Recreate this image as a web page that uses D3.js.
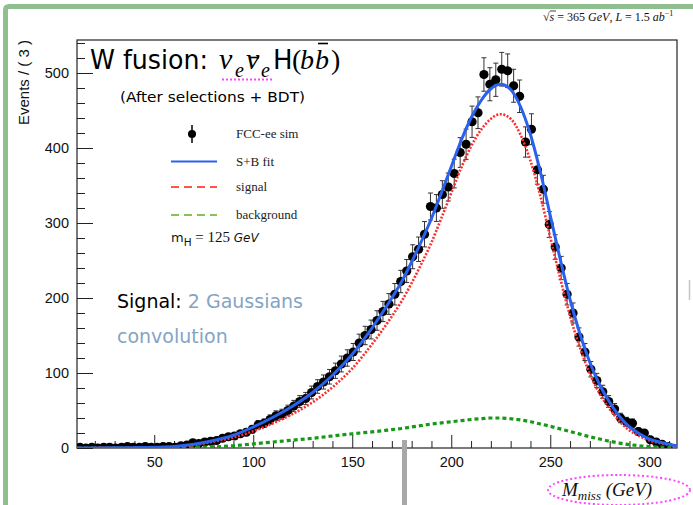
<!DOCTYPE html>
<html><head><meta charset="utf-8">
<script src="https://cdn.jsdelivr.net/npm/d3@7"></script>
<style>html,body{margin:0;padding:0;background:#fff;overflow:hidden}</style>
</head><body>
<svg id="c" width="693" height="505" xmlns="http://www.w3.org/2000/svg"></svg>
<script>
// ---- data ----
const binCenters = d3.range(12.5, 311, 3); // bin width 3 GeV, 100 bins
const counts = [
  1,0,1,0,1,1,0,1,2,1,
  1,2,1,1,2,2,1,3,4,7,
  6,8,9,10,13,15,16,19,21,25,
  31,33,38,43,45,50,56,62,66,74,
  82,88,95,103,112,120,128,140,150,158,
  170,182,192,205,222,236,255,265,285,322,
  320,338,348,366,394,405,435,447,498,485,
  491,505,503,483,469,408,425,371,345,298,
  268,240,205,180,148,128,105,90,75,62,
  52,40,35,33,22,20,11,8,5,2
];
const fitX =      [11,20,30,40,50,60,70,80,90,100,110,120,130,140,150,160,170,175,180,185,190,195,200,205,210,215,220,225,230,235,240,245,250,255,260,265,270,275,280,285,290,295,300,305,310,314];
const fitSB =     [0,0.1,0.2,0.5,1,2,5,10,17,28,41,56,74,97,125,160,200,222,248,276,306,340,375,410,440,463,479,485,478,455,418,368,310,252,198,152,114,84,61,42,28,19,12,8,5,3];
const fitSignal = [0,0.1,0.2,0.4,0.7,1.4,4,8.5,14,22.5,33,45.5,61,81,106,138.5,175.5,196,220,246,274,306.5,340,373.5,402,424,439,445,439,417.5,383,336,281,226.5,176,133.5,99,72,52,35.5,23.5,16,10,6.8,4.4,2.7];
const fitBkg =    [0,0,0,0.1,0.3,0.6,1,1.5,3,5.5,8,10.5,13,16,19,21.5,24.5,26,28,30,32,33.5,35,36.5,38,39,40,40,39,37.5,35,32,29,25.5,22,18.5,15,12,9,6.5,4.5,3,2,1.2,0.6,0.3];
const xMajor = [50,100,150,200,250,300];
const yMajor = [0,100,200,300,400,500];
const legendLabels = ["FCC-ee sim","S+B fit","signal","background"];

// ---- drawing ----
const svg = d3.select("#c");
const W = 693, H = 505;
const L = 77, R = 677, T = 40, B = 448;
const x = d3.scaleLinear().domain([11, 314]).range([L, R]);
const y = d3.scaleLinear().domain([0, 544]).range([B, T]);

svg.append("rect").attr("width", W).attr("height", H).attr("fill", "#fff");

// slide decoration (green frame)
svg.append("path").attr("d", "M3,505 L3,10 Q3,4 9,4 L693,4 L693,9 L9,9 Q8,9 8,10 L8,505 Z")
   .attr("fill", "#8fbf8f");

const clip = svg.append("defs").append("clipPath").attr("id", "pc");
clip.append("rect").attr("x", L).attr("y", T).attr("width", R - L).attr("height", B - T);

// axes
const gx = svg.append("g").attr("transform", `translate(0,${B})`);
gx.call(d3.axisBottom(x).tickValues(d3.range(20, 311, 10).filter(v => v % 50 !== 0)).tickSize(-7).tickFormat(""));
const gx2 = svg.append("g").attr("transform", `translate(0,${B})`);
gx2.call(d3.axisBottom(x).tickValues(xMajor).tickSize(-13).tickFormat(d3.format("d")).tickPadding(9));
const gy = svg.append("g").attr("transform", `translate(${L},0)`);
gy.call(d3.axisLeft(y).tickValues(d3.range(20, 541, 20).filter(v => v % 100 !== 0)).tickSize(-8).tickFormat(""));
const gy2 = svg.append("g").attr("transform", `translate(${L},0)`);
gy2.call(d3.axisLeft(y).tickValues(yMajor).tickSize(-16).tickFormat(d3.format("d")).tickPadding(8));
[gx, gx2, gy, gy2].forEach(g => {
  g.select(".domain").remove();
  g.selectAll("line").attr("stroke", "#222").attr("stroke-width", 1);
  g.selectAll("text").attr("font-family", "Liberation Sans, Arial, sans-serif").attr("font-size", 14.5).attr("fill", "#111");
});
gy2.selectAll("text").attr("x", -8);

svg.append("rect").attr("x", L).attr("y", T).attr("width", R - L).attr("height", B - T)
   .attr("fill", "none").attr("stroke", "#222").attr("stroke-width", 1.2);

const plot = svg.append("g").attr("clip-path", "url(#pc)");

// data points with error bars
const pts = binCenters.map((c, i) => ({c, n: counts[i]}));
const eb = plot.append("g");
pts.forEach(p => {
  const e = Math.sqrt(p.n);
  const px = x(p.c);
  if (e > 0) {
    eb.append("line").attr("x1", px).attr("x2", px).attr("y1", y(p.n - e)).attr("y2", y(p.n + e)).attr("stroke", "#333").attr("stroke-width", 1);
    eb.append("line").attr("x1", px - 2.5).attr("x2", px + 2.5).attr("y1", y(p.n + e)).attr("y2", y(p.n + e)).attr("stroke", "#333").attr("stroke-width", 1);
    eb.append("line").attr("x1", px - 2.5).attr("x2", px + 2.5).attr("y1", y(p.n - e)).attr("y2", y(p.n - e)).attr("stroke", "#333").attr("stroke-width", 1);
  }
});
plot.append("g").selectAll("circle").data(pts).join("circle")
  .attr("cx", d => x(d.c)).attr("cy", d => y(d.n)).attr("r", 4.6).attr("fill", "#000");

// fit curves
const line = vals => d3.line().x((d, i) => x(fitX[i])).y(d => y(d)).curve(d3.curveMonotoneX)(vals);
plot.append("path").attr("d", line(fitBkg)).attr("fill", "none").attr("stroke", "#169a16").attr("stroke-width", 3.2).attr("stroke-dasharray", "4,3");
plot.append("path").attr("d", line(fitSignal)).attr("fill", "none").attr("stroke", "#ff2d2d").attr("stroke-width", 2.6).attr("stroke-dasharray", "2,1.6");
plot.append("path").attr("d", line(fitSB)).attr("fill", "none").attr("stroke", "#2a62ee").attr("stroke-width", 3);

// legend
const lg = svg.append("g");
lg.append("line").attr("x1", 192).attr("x2", 192).attr("y1", 125).attr("y2", 143).attr("stroke", "#000").attr("stroke-width", 1.5);
lg.append("circle").attr("cx", 192).attr("cy", 134).attr("r", 4).attr("fill", "#000");
lg.append("line").attr("x1", 171).attr("x2", 217).attr("y1", 161.5).attr("y2", 161.5).attr("stroke", "#2a62ee").attr("stroke-width", 2);
lg.append("line").attr("x1", 171).attr("x2", 217).attr("y1", 187).attr("y2", 187).attr("stroke", "#ff5544").attr("stroke-width", 2).attr("stroke-dasharray", "8,5");
lg.append("line").attr("x1", 171).attr("x2", 217).attr("y1", 215).attr("y2", 215).attr("stroke", "#86c255").attr("stroke-width", 2).attr("stroke-dasharray", "8,5");
const legY = [137.5, 165.5, 191, 219];
legendLabels.forEach((t, i) => {
  lg.append("text").attr("x", 236).attr("y", legY[i]).text(t)
    .attr("font-family", "Liberation Serif, Times New Roman, serif").attr("font-size", 13).attr("fill", "#222");
});
const mh = lg.append("text").attr("x", 171).attr("y", 241.5).attr("fill", "#111");
mh.append("tspan").text("m").attr("font-family", "DejaVu Sans, sans-serif").attr("font-size", 13);
mh.append("tspan").text("H").attr("font-family", "DejaVu Sans, sans-serif").attr("font-size", 10.5).attr("dy", 4);
mh.append("tspan").text(" = 125 ").attr("font-family", "Liberation Serif, serif").attr("font-size", 15).attr("dy", -4);
mh.append("tspan").text("GeV").attr("font-family", "DejaVu Sans, sans-serif").attr("font-style", "italic").attr("font-size", 12);

// title
const serif = "Liberation Serif, Times New Roman, serif";
const comic = "DejaVu Sans, Verdana, sans-serif";
svg.append("text").attr("x", 90).attr("y", 69).text("W fusion:")
   .attr("font-family", comic).attr("font-size", 26).attr("textLength", 118).attr("lengthAdjust", "spacingAndGlyphs").attr("fill", "#000");
const tpart = (tx, xx, yy, fs, fam, it) => svg.append("text").attr("x", xx).attr("y", yy).text(tx)
   .attr("font-family", fam).attr("font-size", fs).attr("font-style", it ? "italic" : "normal").attr("fill", "#000");
tpart("\u03BD", 219, 69, 30, serif, true);
tpart("e", 235, 77, 20, serif, true);
tpart("\u03BD", 246, 69, 30, serif, true);
tpart("e", 261, 77, 20, serif, true);
svg.append("line").attr("x1", 249).attr("x2", 259).attr("y1", 57.5).attr("y2", 57.5).attr("stroke", "#000").attr("stroke-width", 1.6);
tpart("H", 273, 69, 26, comic, false);
tpart("(", 292, 69, 28, serif, false);
tpart("b", 300, 69, 28, serif, true);
tpart("b", 315, 69, 28, serif, true);
svg.append("line").attr("x1", 318).attr("x2", 328).attr("y1", 43.5).attr("y2", 43.5).attr("stroke", "#000").attr("stroke-width", 1.6);
tpart(")", 331, 69, 28, serif, false);
svg.append("line").attr("x1", 222).attr("x2", 272).attr("y1", 79.5).attr("y2", 79.5)
   .attr("stroke", "#ff44ff").attr("stroke-width", 2).attr("stroke-dasharray", "2,2");
svg.append("text").attr("x", 120).attr("y", 101.5).text("(After selections + BDT)")
   .attr("font-family", comic).attr("font-size", 14.5).attr("textLength", 185).attr("lengthAdjust", "spacingAndGlyphs").attr("fill", "#000");

// signal annotation
const sg = svg.append("text").attr("x", 117).attr("y", 308).attr("font-family", comic).attr("font-size", 19);
sg.append("tspan").text("Signal: ").attr("fill", "#000");
sg.append("tspan").text("2 Gaussians").attr("fill", "#84a4c4");
svg.append("text").attr("x", 117).attr("y", 343).text("convolution").attr("font-family", comic).attr("font-size", 19).attr("fill", "#84a4c4");

// top-right energy / luminosity
const en = svg.append("text").attr("x", 543).attr("y", 21).attr("font-family", serif).attr("font-size", 12).attr("fill", "#111");
en.append("tspan").text("\u221A");
en.append("tspan").text("s").attr("font-style", "italic");
en.append("tspan").text(" = 365 ");
en.append("tspan").text("GeV").attr("font-style", "italic");
en.append("tspan").text(", ");
en.append("tspan").text("L").attr("font-style", "italic");
en.append("tspan").text(" = 1.5 ");
en.append("tspan").text("ab").attr("font-style", "italic");
en.append("tspan").text("\u22121").attr("font-size", 8).attr("dy", -5);
svg.append("line").attr("x1", 550).attr("x2", 556).attr("y1", 11).attr("y2", 11).attr("stroke", "#111").attr("stroke-width", 0.8);

// axis titles
svg.append("text").attr("transform", "translate(29,40) rotate(-90)").attr("text-anchor", "end")
   .text("Events / ( 3 )").attr("font-family", "Liberation Sans, Arial, sans-serif").attr("font-size", 15).attr("fill", "#111");
const xt = svg.append("text").attr("x", 562).attr("y", 496).attr("font-family", serif).attr("font-size", 19).attr("font-style", "italic").attr("fill", "#111");
xt.append("tspan").text("M");
xt.append("tspan").text("miss").attr("font-size", 13).attr("dy", 4);
xt.append("tspan").text(" (GeV)").attr("dy", -4);
svg.append("ellipse").attr("cx", 619).attr("cy", 490).attr("rx", 71).attr("ry", 15)
   .attr("fill", "none").attr("stroke", "#ff44ff").attr("stroke-width", 2).attr("stroke-dasharray", "2,2.5");

// slide artefacts: gray marks
svg.append("rect").attr("x", 402).attr("y", 440).attr("width", 5).attr("height", 65).attr("fill", "#a8a8a8");
svg.append("line").attr("x1", 689.5).attr("x2", 689.5).attr("y1", 280).attr("y2", 300).attr("stroke", "#c4c4c4").attr("stroke-width", 1.5);
</script>
</body></html>
